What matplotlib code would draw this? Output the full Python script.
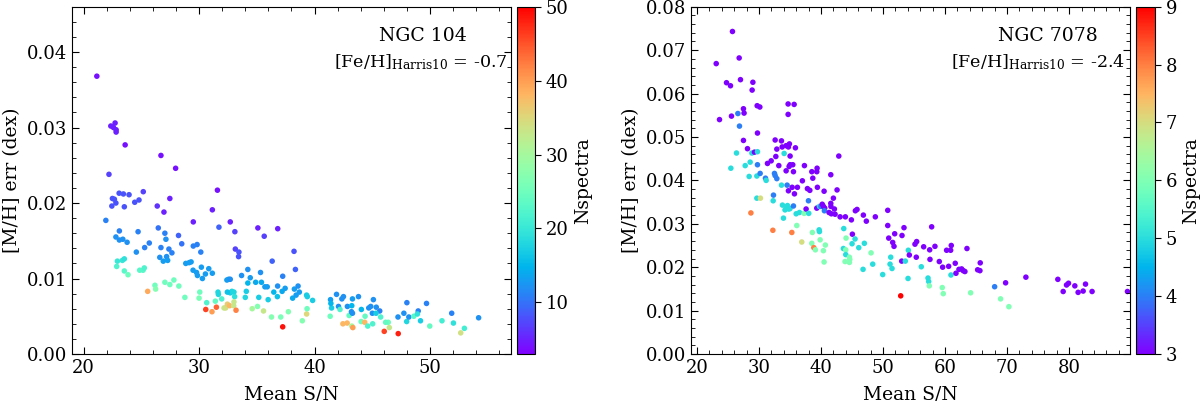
import numpy as np
import matplotlib
matplotlib.use('Agg')
import matplotlib.pyplot as plt
from matplotlib.ticker import MultipleLocator

plt.rcParams['font.family'] = ['DejaVu Serif']
plt.rcParams['mathtext.fontset'] = 'dejavuserif'

# NGC 104: mean S/N, [M/H] error, number of spectra
sn_104 = [21.15, 22.36, 22.73, 22.59, 22.82, 22.82, 23.6, 26.7, 27.97, 22.2, 31.59, 23.08, 23.45, 23.94,
          25.17, 22.5, 22.67, 24.8, 27.47, 21.93, 22.45, 22.8, 23.53, 24.43, 26.38, 26.96, 31.15, 29.5,
          32.7, 31.72, 33.1, 35.09, 36.81, 35.64, 26.47, 23.1, 24.72, 22.8, 23.1, 23.4, 23.77, 25.69,
          25.29, 24.57, 27.04, 27.13, 26.7, 27.39, 27.65, 26.6, 26.9, 27.19, 27.28, 28.22, 28.5, 29.5,
          29.83, 30.15, 28.85, 29.14, 29.31, 29.48, 29.78, 29.86, 30.2, 30.29, 30.55, 30.84, 31.15, 33.14,
          33.45, 33.42, 33.68, 34.22, 34.43, 35.32, 36.33, 38.22, 38.34, 37.24, 32.41, 32.56, 32.7, 34.22,
          34.9, 35.4, 35.7, 35.9, 36.8, 37.45, 36.47, 37.19, 38.25, 38.57, 38.68, 38.1, 38.4, 36.78,
          35.98, 35.17, 34.09, 34.0, 33.02, 32.7, 32.84, 33.08, 32.45, 31.64, 31.67, 31.96, 30.66, 30.06,
          30.0, 31.41, 28.77, 28.25, 27.82, 27.47, 27.04, 26.18, 26.24, 25.55, 23.85, 23.53, 22.87, 22.93,
          23.36, 23.53, 24.86, 25.15, 25.26, 30.58, 31.12, 31.5, 32.16, 32.3, 32.45, 32.65, 33.0, 33.02,
          33.2, 34.6, 35.06, 35.58, 36.27, 37.07, 37.73, 37.24, 38.94, 39.31, 39.35, 39.31, 39.37, 39.83,
          41.38, 41.47, 41.41, 41.35, 41.9, 42.07, 42.36, 42.5, 42.2, 42.45, 42.82, 42.84, 43.28, 43.22,
          42.99, 43.19, 43.28, 43.22, 43.31, 43.8, 44.05, 44.37, 44.03, 44.34, 44.69, 44.86, 45.09, 45.0,
          45.34, 45.64, 45.32, 45.03, 44.6, 45.72, 46.03, 46.38, 46.15, 46.47, 47.24, 47.22, 47.73, 47.99,
          47.97, 48.16, 48.59, 48.97, 48.9, 49.17, 49.69, 49.97, 51.03, 51.87, 52.02, 52.65, 52.97, 54.2]
err_104 = [0.0368, 0.0302, 0.0306, 0.0300, 0.0297, 0.0294, 0.0277, 0.0263, 0.0246, 0.0238, 0.0217, 0.0213,
           0.0212, 0.0211, 0.0215, 0.0206, 0.0205, 0.0204, 0.0206, 0.0177, 0.0196, 0.0200, 0.0195, 0.0201,
           0.0196, 0.0188, 0.0191, 0.0175, 0.0175, 0.0168, 0.0162, 0.0167, 0.0166, 0.0156, 0.0167, 0.0163,
           0.0162, 0.0155, 0.0151, 0.0152, 0.0148, 0.0147, 0.0141, 0.0135, 0.0160, 0.0152, 0.0141, 0.0139,
           0.0134, 0.0128, 0.0123, 0.0129, 0.0124, 0.0157, 0.0146, 0.0143, 0.0145, 0.0135, 0.0120, 0.0121,
           0.0122, 0.0111, 0.0108, 0.0104, 0.0115, 0.0100, 0.0106, 0.0113, 0.0107, 0.0139, 0.0135, 0.0129,
           0.0104, 0.0112, 0.0101, 0.0108, 0.0123, 0.0136, 0.0112, 0.0103, 0.0098, 0.0099, 0.0099, 0.0094,
           0.0095, 0.0095, 0.0089, 0.0089, 0.0090, 0.0087, 0.0082, 0.0083, 0.0086, 0.0090, 0.0082, 0.0074,
           0.0078, 0.0076, 0.0072, 0.0075, 0.0083, 0.0075, 0.0082, 0.0081, 0.0083, 0.0076, 0.0082, 0.0082,
           0.0079, 0.0073, 0.0068, 0.0082, 0.0074, 0.0070, 0.0075, 0.0090, 0.0098, 0.0092, 0.0095, 0.0091,
           0.0086, 0.0083, 0.0105, 0.0110, 0.0116, 0.0123, 0.0124, 0.0126, 0.0111, 0.0111, 0.0114, 0.0059,
           0.0056, 0.0062, 0.0061, 0.0061, 0.0066, 0.0064, 0.0064, 0.0069, 0.0058, 0.0060, 0.0063, 0.0057,
           0.0049, 0.0049, 0.0056, 0.0036, 0.0044, 0.0053, 0.0060, 0.0078, 0.0076, 0.0071, 0.0072, 0.0061,
           0.0067, 0.0050, 0.0079, 0.0063, 0.0073, 0.0076, 0.0059, 0.0040, 0.0041, 0.0063, 0.0073, 0.0064,
           0.0051, 0.0056, 0.0054, 0.0037, 0.0035, 0.0076, 0.0059, 0.0050, 0.0043, 0.0042, 0.0061, 0.0063,
           0.0072, 0.0054, 0.0062, 0.0057, 0.0054, 0.0040, 0.0037, 0.0049, 0.0030, 0.0042, 0.0042, 0.0035,
           0.0027, 0.0049, 0.0054, 0.0068, 0.0043, 0.0049, 0.0050, 0.0057, 0.0053, 0.0044, 0.0067, 0.0037,
           0.0044, 0.0054, 0.0041, 0.0028, 0.0034, 0.0048]
nspec_104 = [4, 5, 5, 5, 5, 5, 4, 4, 4, 7, 4, 8, 8, 8, 7, 8, 8, 8, 5, 11, 8, 8, 8, 8, 6, 5, 5, 5, 5, 9, 7, 5,
             5, 7, 10, 11, 11, 12, 12, 12, 12, 11, 11, 12, 11, 12, 11, 11, 11, 12, 13, 12, 13, 9, 10, 11, 11,
             11, 13, 13, 13, 13, 13, 13, 13, 13, 13, 13, 13, 7, 8, 8, 12, 12, 13, 12, 9, 8, 9, 11, 13, 13, 12,
             15, 14, 14, 13, 13, 12, 13, 15, 14, 13, 12, 13, 14, 13, 16, 17, 17, 17, 18, 18, 17, 18, 19, 16,
             18, 18, 22, 22, 25, 26, 24, 25, 25, 25, 25, 25, 25, 27, 39, 25, 23, 22, 20, 20, 19, 23, 23, 22,
             46, 40, 44, 33, 34, 36, 38, 33, 33, 42, 30, 27, 33, 27, 26, 27, 49, 27, 35, 25, 17, 17, 17, 13,
             17, 15, 25, 12, 12, 12, 12, 22, 38, 38, 12, 13, 15, 24, 12, 12, 30, 40, 12, 15, 24, 25, 38, 12,
             12, 12, 12, 12, 11, 17, 22, 22, 22, 46, 25, 24, 33, 48, 12, 12, 11, 18, 12, 23, 11, 19, 17, 11,
             24, 21, 11, 19, 34, 21, 12]

# NGC 7078
sn_7078 = [23.11, 23.64, 25.73, 24.77, 25.41, 25.57, 26.81, 27.02, 26.6, 26.86, 27.5, 27.6, 28.9, 29.02,
           29.71, 30.14, 27.5, 28.15, 29.76, 26.38, 28.86, 29.28, 29.76, 25.47, 27.78, 28.58, 28.42, 29.76,
           29.66, 30.19, 31.05, 31.16, 31.37, 31.97, 32.61, 33.63, 32.72, 32.88, 33.2, 32.5, 32.61, 32.88,
           33.74, 34.38, 34.75, 34.91, 35.88, 34.7, 35.67, 34.7, 35.02, 34.86, 35.02, 34.38, 35.45, 35.56,
           34.06, 33.63, 34.54, 35.35, 34.75, 36.2, 35.72, 37.0, 37.33, 37.81, 38.2, 38.52, 38.68, 39.37,
           39.32, 39.42, 40.5, 41.58, 42.59, 42.87, 42.0, 29.66, 30.24, 28.7, 32.34, 32.29, 32.24, 33.79,
           33.95, 34.2, 34.6, 34.8, 34.4, 35.0, 35.3, 35.56, 36.0, 36.1, 36.53, 36.9, 37.28, 37.6, 37.98,
           38.03, 38.61, 38.52, 38.84, 39.1, 39.32, 39.7, 39.75, 39.86, 39.75, 40.0, 40.2, 40.4, 40.6, 40.39,
           40.5, 40.7, 40.55, 41.3, 41.67, 41.58, 41.6, 42.16, 42.27, 43.08, 43.93, 43.67, 43.61, 44.04,
           43.99, 43.88, 43.99, 44.58, 44.64, 44.58, 44.9, 45.06, 45.01, 45.49, 45.54, 45.81, 46.09, 46.78,
           46.83, 46.99, 47.31, 48.07, 48.34, 48.76, 49.95, 50.76, 50.76, 50.92, 51.24, 51.13, 51.45, 51.56,
           51.77, 51.88, 52.85, 53.06, 53.38, 53.01, 53.59, 54.03, 54.08, 54.24, 55.15, 55.42, 55.36, 56.17,
           56.55, 57.25, 57.36, 57.46, 57.52, 57.57, 57.84, 58.37, 59.07, 59.55, 59.71, 59.61, 60.25, 60.9,
           60.58, 61.0, 60.95, 61.64, 61.76, 62.24, 62.67, 62.93, 63.2, 63.53, 64.12, 65.25, 65.62, 65.67,
           67.99, 68.95, 69.76, 70.29, 73.03, 78.18, 79.04, 79.58, 79.9, 80.92, 81.45, 82.26, 82.64, 83.7,
           89.4]
err_7078 = [0.0669, 0.0540, 0.0743, 0.0625, 0.0618, 0.0548, 0.0682, 0.0632, 0.0554, 0.0525, 0.0565, 0.0555,
            0.0608, 0.0626, 0.0572, 0.0569, 0.0492, 0.0473, 0.0509, 0.0463, 0.0463, 0.0465, 0.0466, 0.0428,
            0.0434, 0.0442, 0.0409, 0.0436, 0.0410, 0.0416, 0.0405, 0.0400, 0.0439, 0.0445, 0.0493, 0.0491,
            0.0455, 0.0472, 0.0434, 0.0416, 0.0411, 0.0404, 0.0477, 0.0480, 0.0477, 0.0484, 0.0475, 0.0576,
            0.0575, 0.0552, 0.0456, 0.0432, 0.0436, 0.0422, 0.0436, 0.0420, 0.0462, 0.0389, 0.0389, 0.0384,
            0.0376, 0.0384, 0.0369, 0.0399, 0.0434, 0.0381, 0.0377, 0.0420, 0.0405, 0.0428, 0.0420, 0.0384,
            0.0375, 0.0413, 0.0378, 0.0456, 0.0359, 0.0359, 0.0359, 0.0325, 0.0366, 0.0353, 0.0285, 0.0343,
            0.0313, 0.0332, 0.0342, 0.0334, 0.0337, 0.0335, 0.0280, 0.0341, 0.0323, 0.0296, 0.0326, 0.0258,
            0.0324, 0.0334, 0.0353, 0.0324, 0.0280, 0.0255, 0.0245, 0.0240, 0.0336, 0.0286, 0.0282, 0.0263,
            0.0340, 0.0340, 0.0345, 0.0340, 0.0336, 0.0238, 0.0212, 0.0251, 0.0330, 0.0326, 0.0323, 0.0347,
            0.0340, 0.0334, 0.0322, 0.0316, 0.0316, 0.0289, 0.0243, 0.0267, 0.0240, 0.0213, 0.0229, 0.0223,
            0.0218, 0.0211, 0.0309, 0.0276, 0.0254, 0.0265, 0.0330, 0.0333, 0.0245, 0.0195, 0.0320, 0.0255,
            0.0306, 0.0233, 0.0207, 0.0316, 0.0183, 0.0331, 0.0296, 0.0267, 0.0223, 0.0207, 0.0197, 0.0257,
            0.0248, 0.0277, 0.0134, 0.0273, 0.0291, 0.0214, 0.0214, 0.0174, 0.0239, 0.0228, 0.0253, 0.0259,
            0.0223, 0.0201, 0.0247, 0.0175, 0.0167, 0.0157, 0.0240, 0.0218, 0.0293, 0.0248, 0.0213, 0.0153,
            0.0139, 0.0200, 0.0239, 0.0239, 0.0202, 0.0250, 0.0182, 0.0209, 0.0186, 0.0195, 0.0196, 0.0192,
            0.0190, 0.0243, 0.0141, 0.0194, 0.0192, 0.0210, 0.0155, 0.0127, 0.0164, 0.0109, 0.0177, 0.0172,
            0.0144, 0.0159, 0.0163, 0.0157, 0.0142, 0.0145, 0.0161, 0.0144, 0.0144]
nspec_7078 = [3, 3, 3, 3, 3, 3, 3, 3, 4, 4, 3, 3, 3, 3, 3, 3, 3, 3, 3, 5, 5, 3, 5, 5, 5, 5, 5, 4, 5, 4, 4, 5,
              3, 3, 3, 3, 3, 3, 3, 4, 4, 4, 3, 3, 3, 3, 3, 3, 3, 3, 3, 3, 3, 3, 3, 3, 5, 5, 4, 3, 3, 3, 3, 3,
              3, 3, 3, 3, 3, 3, 3, 3, 3, 3, 3, 3, 3, 5, 7, 8, 4, 5, 8, 5, 5, 5, 5, 5, 5, 5, 8, 4, 5, 6, 5, 7,
              6, 3, 4, 5, 6, 6, 8, 6, 3, 5, 5, 6, 5, 4, 3, 3, 3, 6, 6, 6, 4, 3, 3, 3, 3, 3, 3, 3, 3, 5, 5, 6,
              6, 6, 5, 6, 6, 6, 3, 3, 5, 5, 3, 3, 5, 5, 3, 5, 3, 6, 5, 3, 5, 3, 3, 3, 5, 5, 5, 3, 3, 3, 9, 3,
              3, 3, 5, 5, 5, 3, 3, 3, 3, 5, 3, 5, 5, 6, 3, 3, 3, 3, 3, 6, 6, 3, 3, 3, 3, 3, 5, 3, 3, 3, 3, 3,
              3, 3, 6, 3, 3, 3, 4, 6, 3, 6, 3, 3, 3, 3, 3, 3, 3, 3, 3, 3, 3]

panels = [
    dict(x=sn_104, y=err_104, c=nspec_104, name='NGC 104', feh='-0.7', xlim=(19, 57), ylim=(0, 0.046),
         vmin=3, vmax=50, ax=[0.06, 0.1172, 0.3658, 0.866], cax=[0.4308, 0.1172, 0.015, 0.866],
         t1=0.800, t2=0.795),
    dict(x=sn_7078, y=err_7078, c=nspec_7078, name='NGC 7078', feh='-2.4', xlim=(19, 89.8), ylim=(0, 0.08),
         vmin=3, vmax=9, ax=[0.5756, 0.1172, 0.366, 0.866], cax=[0.9467, 0.1172, 0.0158, 0.866],
         t1=0.813, t2=0.791),
]

fig = plt.figure(figsize=(12, 4.01), dpi=100)

for p in panels:
    ax = fig.add_axes(p['ax'])
    cax = fig.add_axes(p['cax'])
    sc = ax.scatter(p['x'], p['y'], c=p['c'], cmap='rainbow', vmin=p['vmin'], vmax=p['vmax'],
                    s=16, edgecolors='none')
    ax.set_xlim(p['xlim'])
    ax.set_ylim(p['ylim'])
    ax.xaxis.set_major_locator(MultipleLocator(10))
    ax.xaxis.set_minor_locator(MultipleLocator(2))
    ax.yaxis.set_major_locator(MultipleLocator(0.01))
    ax.yaxis.set_minor_locator(MultipleLocator(0.002))
    ax.tick_params(which='both', direction='in', top=True, right=True, labelsize=13)
    ax.tick_params(which='major', length=5)
    ax.tick_params(which='minor', length=3)
    ax.set_xlabel('Mean S/N', fontsize=13.5, labelpad=6)
    ax.set_ylabel('[M/H] err (dex)', fontsize=13.5)
    ax.text(p['t1'], 0.915, p['name'], transform=ax.transAxes, ha='center', va='center', fontsize=13.6)
    ax.text(p['t2'], 0.84, r'[Fe/H]$_{\rm Harris10}$ = ' + p['feh'], transform=ax.transAxes,
            ha='center', va='center', fontsize=12.6)

    cb = fig.colorbar(sc, cax=cax)
    cb.set_label('Nspectra', fontsize=13.5)
    cb.ax.tick_params(labelsize=13, length=4)

fig.savefig('out.png', dpi=100)
